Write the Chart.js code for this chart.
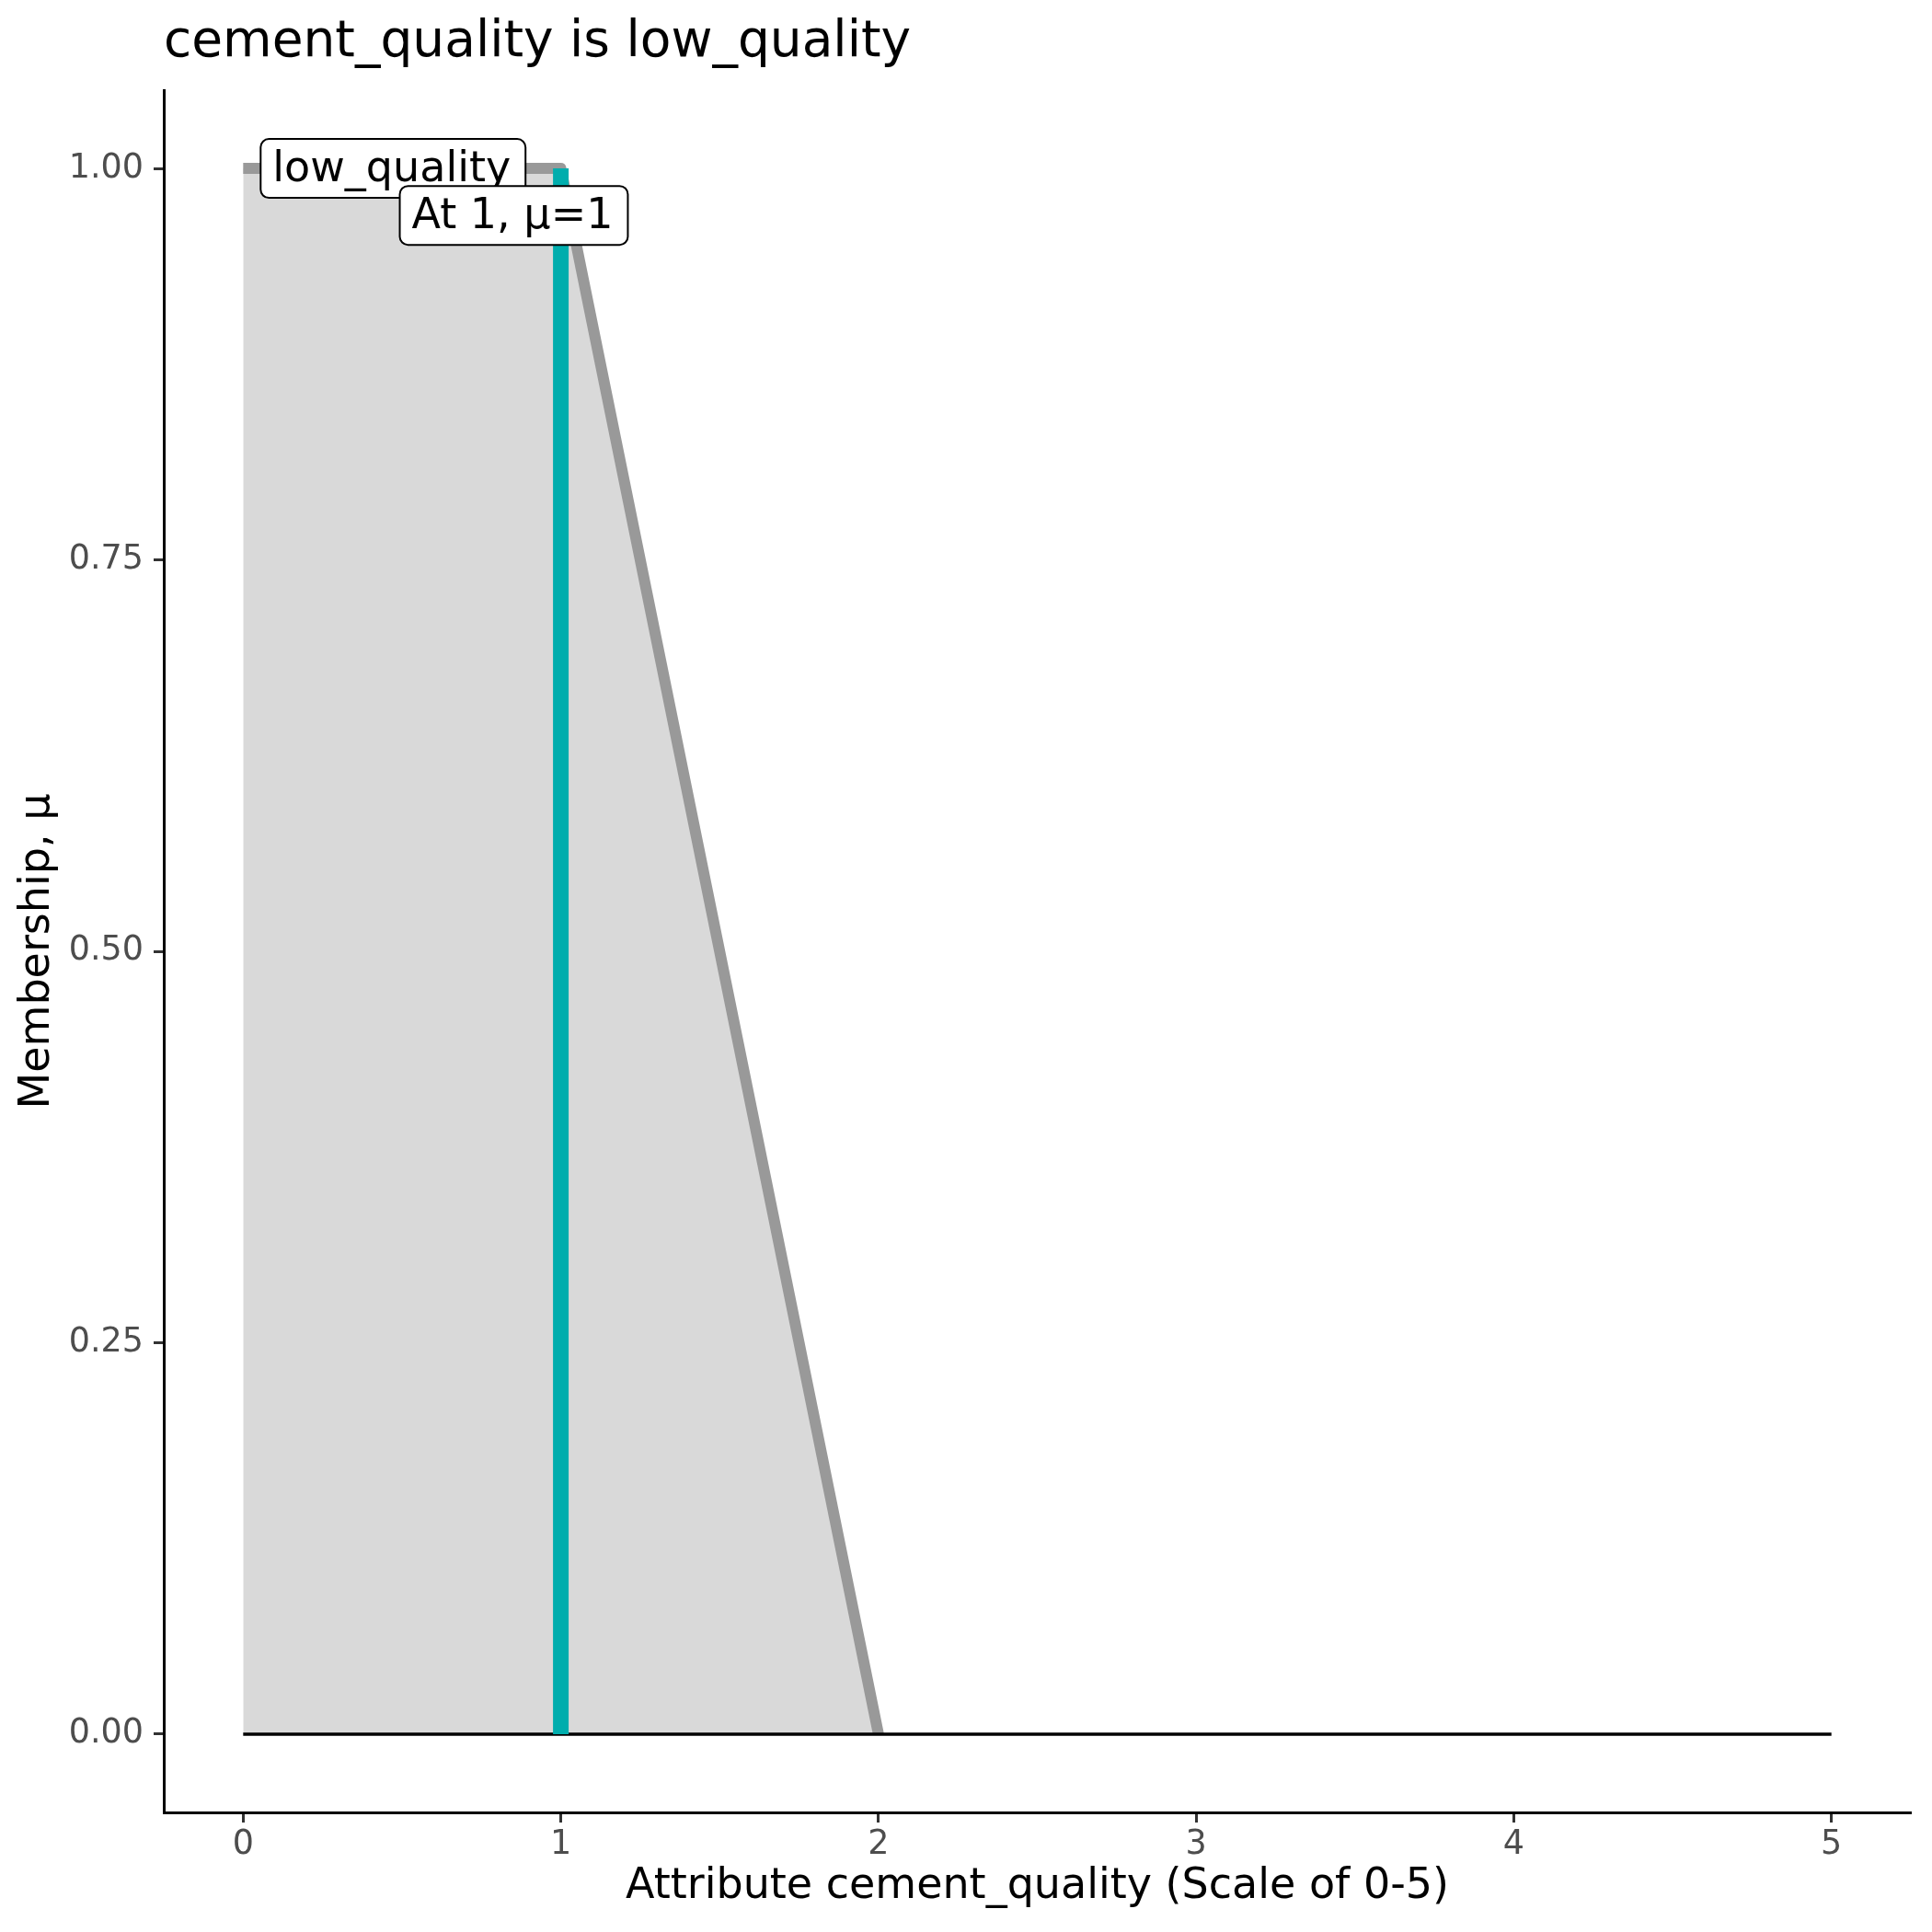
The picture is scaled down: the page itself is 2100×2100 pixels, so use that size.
<!DOCTYPE html>
<html lang="en">
<head>
    <meta charset="UTF-8">
    <title>cement_quality is low_quality</title>
    <script src="https://cdn.jsdelivr.net/npm/chart.js"></script>
    <style>
        html, body { margin: 0; padding: 0; background: #fff; }
        #wrap { width: 2100px; height: 2100px; }
    </style>
</head>
<body>
    <div id="wrap"><canvas id="mfChart" width="2100" height="2100"></canvas></div>

    <script>
        // membership function of low_quality
        const mfX = [0, 1, 2];
        const mfMu = [1, 1, 0];
        // input value and its membership
        const inputX = [1, 1];
        const inputMu = [0, 1];
        // zero baseline over the whole scale
        const baseX = [0, 5];
        const baseMu = [0, 0];
        // ticks
        const xTicks = [0, 1, 2, 3, 4, 5];
        const yTicks = [0, 0.25, 0.5, 0.75, 1];
        // label texts
        const setLabel = 'low_quality';
        const inputLabel = 'At 1, \u03bc=1';

        const FONT = 'DejaVu Sans';

        function toPoints(xs, ys) {
            return xs.map((x, i) => ({ x: x, y: ys[i] }));
        }

        // title + boxed labels (geom_label look)
        const overlay = {
            id: 'overlay',
            afterDraw(chart) {
                const ctx = chart.ctx;
                const xs = chart.scales.x, ys = chart.scales.y;
                ctx.save();
                ctx.fillStyle = '#000';
                ctx.font = '55px "' + FONT + '"';
                ctx.textAlign = 'left';
                ctx.textBaseline = 'middle';
                ctx.fillText('cement_quality is low_quality', chart.chartArea.left, 47);

                const labels = [
                    { text: setLabel, x: 0.055, y: 1.0 },
                    { text: inputLabel, x: 0.493, y: 0.97 }
                ];
                ctx.font = '46px "' + FONT + '"';
                labels.forEach(l => {
                    const w = ctx.measureText(l.text).width + 29;
                    const h = 64;
                    const left = xs.getPixelForValue(l.x);
                    const cy = ys.getPixelForValue(l.y);
                    ctx.beginPath();
                    ctx.roundRect(left, cy - h / 2, w, h, 9);
                    ctx.fillStyle = '#fff';
                    ctx.fill();
                    ctx.lineWidth = 2;
                    ctx.strokeStyle = '#000';
                    ctx.stroke();
                    ctx.fillStyle = '#000';
                    ctx.textBaseline = 'middle';
                    ctx.fillText(l.text, left + 13, cy + 2);
                });
                ctx.restore();
            }
        };

        new Chart(document.getElementById('mfChart'), {
            type: 'scatter',
            data: {
                datasets: [
                    {
                        data: toPoints(inputX, inputMu),
                        showLine: true,
                        borderColor: '#00ADAD',
                        borderWidth: 17,
                        pointRadius: 0,
                        borderCapStyle: 'butt'
                    },
                    {
                        data: toPoints(baseX, baseMu),
                        showLine: true,
                        borderColor: '#000',
                        borderWidth: 3.5,
                        pointRadius: 0
                    },
                    {
                        data: toPoints(mfX, mfMu),
                        showLine: true,
                        borderColor: '#999999',
                        borderWidth: 12,
                        borderJoinStyle: 'round',
                        borderCapStyle: 'butt',
                        pointRadius: 0
                    },
                    {
                        data: toPoints(mfX, mfMu),
                        showLine: true,
                        fill: 'origin',
                        backgroundColor: '#D9D9D9',
                        borderWidth: 0,
                        borderColor: 'rgba(0,0,0,0)',
                        pointRadius: 0
                    }
                ]
            },
            options: {
                responsive: false,
                animation: false,
                layout: { padding: { top: 98, right: 23, left: 0, bottom: 0 } },
                plugins: {
                    legend: { display: false },
                    tooltip: { enabled: false }
                },
                scales: {
                    x: {
                        type: 'linear',
                        min: -0.25,
                        max: 5.25,
                        afterBuildTicks: s => { s.ticks = xTicks.map(v => ({ value: v })); },
                        afterFit: s => { s.height = 130; },
                        grid: { drawOnChartArea: false, tickLength: 11, tickColor: '#333333', tickWidth: 3 },
                        border: { color: '#000', width: 3 },
                        ticks: {
                            color: '#4D4D4D',
                            font: { family: FONT, size: 36.5 },
                            padding: 3,
                            maxRotation: 0,
                            callback: v => String(v)
                        },
                        title: {
                            display: true,
                            text: 'Attribute cement_quality (Scale of 0-5)',
                            color: '#000',
                            font: { family: FONT, size: 46 },
                            padding: { top: 0, bottom: 21 }
                        }
                    },
                    y: {
                        type: 'linear',
                        min: -0.05,
                        max: 1.05,
                        afterBuildTicks: s => { s.ticks = yTicks.map(v => ({ value: v })); },
                        afterFit: s => { s.width = 178; },
                        grid: { drawOnChartArea: false, tickLength: 11, tickColor: '#333333', tickWidth: 3 },
                        border: { color: '#000', width: 3 },
                        ticks: {
                            color: '#4D4D4D',
                            font: { family: FONT, size: 36.5 },
                            padding: 11,
                            callback: v => v.toFixed(2)
                        },
                        title: {
                            display: true,
                            text: 'Membership, \u03bc',
                            color: '#000',
                            font: { family: FONT, size: 46 },
                            padding: { top: 13, bottom: 0 }
                        }
                    }
                }
            },
            plugins: [overlay]
        });
    </script>
</body>
</html>
